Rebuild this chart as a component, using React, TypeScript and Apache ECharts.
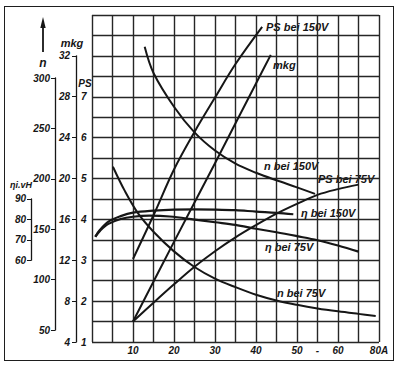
import React, { useEffect, useRef } from "react";
import * as echarts from "echarts";

// ---- data (Ampere on x) ----
const psBei150V_A = [10, 15, 20, 25, 30, 35, 41.5];
const psBei150V = [3.03, 4.1, 5.22, 6.14, 6.98, 7.8, 8.71];

const mkg_A = [10, 20, 30, 40, 43.6];
const mkg = [6.0, 13.8, 21.5, 29.3, 32.1];

const psBei75V_A = [10, 15, 20, 25, 30, 35, 40, 45, 50, 55, 60, 65];
const psBei75V = [1.5, 1.96, 2.41, 2.84, 3.22, 3.56, 3.86, 4.14, 4.38, 4.6, 4.74, 4.85];

const nBei150V_A = [12.85, 15, 20, 25, 30, 35, 40, 45, 50, 54.4];
const nBei150V = [331, 305, 271.5, 246, 228, 215, 206, 198.5, 191.5, 185];

const nBei75V_A = [5.1, 8, 11.2, 15, 20, 25, 30, 35, 40, 45, 50, 55, 60, 65, 69.2];
const nBei75V = [212, 188, 166, 147.5, 128, 112.5, 101, 92.5, 85, 79.3, 75, 71.4, 68.5, 66, 64];

const etaBei150V_A = [0.8, 2, 4, 7, 10, 15, 20, 25, 30, 35, 40, 45, 49.1];
const etaBei150V = [71.5, 75, 78.9, 81.6, 83.3, 84.3, 84.8, 84.9, 84.8, 84.5, 83.8, 83.2, 82.5];

const etaBei75V_A = [0.8, 2, 4, 7, 10, 14, 19, 25, 30, 35, 40, 45, 50, 55, 60, 65];
const etaBei75V = [71.5, 74.5, 77.8, 80.2, 81.3, 81.8, 81.4, 79.9, 78.6, 77.3, 75.4, 73.7, 71.8, 69.8, 67.2, 64.2];

// ---- tick labels ----
const xTickValues = [10, 20, 30, 40, 50, 55, 60, 70];
const xTickLabels = ["10", "20", "30", "40", "50", "-", "60", "80A"];
const mkgTicks = [4, 8, 12, 16, 20, 24, 28, 32];
const psTicks = [1, 2, 3, 4, 5, 6, 7];
const nTicks = [50, 100, 150, 200, 250, 300];
const etaTicks = [60, 70, 80, 90];

const FONT = '"Liberation Sans", Arial, sans-serif';
const INK = "#161616";
const GRIDC = "#262626";

const pair = (xs: number[], ys: number[]) => xs.map((x, i) => [x, ys[i]]);

const tickFmt = (list: number[]) => (v: number) =>
  list.some((t) => Math.abs(t - v) < 1e-6) ? String(Math.round(v)) : "";

export default function App() {
  const ref = useRef<HTMLDivElement>(null);

  useEffect(() => {
    if (!ref.current) return;
    const chart = echarts.init(ref.current, null, { renderer: "svg" });

    const labelStyle = {
      color: INK,
      fontFamily: FONT,
      fontStyle: "italic" as const,
      fontWeight: "bold" as const,
      fontSize: 10,
    };

    const hiddenY = (min: number, max: number) => ({
      type: "value",
      gridIndex: 0,
      min,
      max,
      show: false,
    });

    const lineSeries = (
      name: string,
      xs: number[],
      ys: number[],
      yAxisIndex: number,
      width = 2
    ) => ({
      name,
      type: "line",
      xAxisIndex: 0,
      yAxisIndex,
      data: pair(xs, ys),
      smooth: 0.35,
      showSymbol: false,
      lineStyle: { color: INK, width },
    });

    const curveLabel = (text: string, x: number, y: number) => ({
      type: "text",
      style: {
        text,
        x,
        y,
        fill: INK,
        font: `italic bold 11px ${FONT}`,
        textAlign: "left",
        textVerticalAlign: "middle",
      },
    });

    const titleText = (text: string, x: number, y: number, size = 11) => ({
      type: "text",
      style: {
        text,
        x,
        y,
        fill: INK,
        font: `italic bold ${size}px ${FONT}`,
        textAlign: "center",
        textVerticalAlign: "middle",
      },
    });

    chart.setOption({
      animation: false,
      textStyle: { fontFamily: FONT },
      grid: [
        { left: 92, right: 21, top: 15, bottom: 25 },
        { left: 76, top: 55.8, width: 1, height: 286.2 },
        { left: 55, top: 78, width: 1, height: 252 },
        { left: 31, top: 198.9, width: 1, height: 61.3 },
      ],
      xAxis: [
        {
          type: "value",
          gridIndex: 0,
          min: 0,
          max: 70,
          interval: 5,
          axisLine: { show: false },
          axisTick: { show: false },
          splitLine: { show: true, lineStyle: { color: GRIDC, width: 1.4 } },
          axisLabel: {
            ...labelStyle,
            margin: 3,
            formatter: (v: number) => {
              const i = xTickValues.findIndex((t) => Math.abs(t - v) < 1e-6);
              return i >= 0 ? xTickLabels[i] : "";
            },
          },
        },
        { type: "value", gridIndex: 1, min: 0, max: 1, show: false },
        { type: "value", gridIndex: 2, min: 0, max: 1, show: false },
        { type: "value", gridIndex: 3, min: 0, max: 1, show: false },
      ],
      yAxis: [
        {
          type: "value",
          gridIndex: 0,
          min: 4,
          max: 36,
          interval: 2,
          axisLine: { show: false },
          axisTick: { show: false },
          axisLabel: { show: false },
          splitLine: { show: true, lineStyle: { color: GRIDC, width: 1.4 } },
        },
        hiddenY(1, 9), // PS
        hiddenY(38.1, 362.5), // n
        hiddenY(20, 180), // eta
        {
          type: "value",
          gridIndex: 1,
          position: "left",
          min: 4,
          max: 32,
          interval: 4,
          axisLine: { show: true, lineStyle: { color: INK, width: 1.3 } },
          axisTick: { show: true, length: 4, lineStyle: { color: INK, width: 1 } },
          splitLine: { show: false },
          axisLabel: { ...labelStyle, margin: 6, formatter: tickFmt(mkgTicks) },
        },
        {
          type: "value",
          gridIndex: 1,
          position: "right",
          min: 1,
          max: 8,
          interval: 1,
          axisLine: { show: false },
          axisTick: { show: false },
          splitLine: { show: false },
          axisLabel: { ...labelStyle, margin: 4, formatter: tickFmt(psTicks) },
        },
        {
          type: "value",
          gridIndex: 2,
          position: "left",
          min: 50,
          max: 300,
          interval: 50,
          axisLine: { show: true, lineStyle: { color: INK, width: 1.3 } },
          axisTick: { show: true, length: 4, lineStyle: { color: INK, width: 1 } },
          splitLine: { show: false },
          axisLabel: { ...labelStyle, margin: 5, formatter: tickFmt(nTicks) },
        },
        {
          type: "value",
          gridIndex: 3,
          position: "left",
          min: 60,
          max: 90,
          interval: 10,
          axisLine: { show: true, lineStyle: { color: INK, width: 1.3 } },
          axisTick: { show: true, length: 4, lineStyle: { color: INK, width: 1 } },
          splitLine: { show: false },
          axisLabel: { ...labelStyle, margin: 5, formatter: tickFmt(etaTicks) },
        },
      ],
      series: [
        lineSeries("PS bei 150V", psBei150V_A, psBei150V, 1),
        lineSeries("mkg", mkg_A, mkg, 0),
        lineSeries("PS bei 75V", psBei75V_A, psBei75V, 1),
        lineSeries("n bei 150V", nBei150V_A, nBei150V, 2),
        lineSeries("n bei 75V", nBei75V_A, nBei75V, 2),
        lineSeries("η bei 150V", etaBei150V_A, etaBei150V, 3, 2.2),
        lineSeries("η bei 75V", etaBei75V_A, etaBei75V, 3, 2.2),
      ],
      graphic: [
        {
          type: "line",
          shape: { x1: 43, y1: 52, x2: 43, y2: 24 },
          style: { stroke: INK, lineWidth: 1.8 },
        },
        {
          type: "polygon",
          shape: { points: [[43, 17], [40.3, 28], [45.7, 28]] },
          style: { fill: INK },
        },
        titleText("n", 43, 63, 12),
        titleText("mkg", 72, 43, 11),
        titleText("PS", 85, 83, 10),
        titleText("ηi.vH", 21, 185, 9),
        curveLabel("PS bei 150V", 266, 27),
        curveLabel("mkg", 273, 65),
        curveLabel("n bei 150V", 264, 166),
        curveLabel("PS bei 75V", 318, 179),
        curveLabel("η bei 150V", 301, 213),
        curveLabel("η bei 75V", 265, 247),
        curveLabel("n bei 75V", 277, 293),
      ],
    });

    return () => chart.dispose();
  }, []);

  return (
    <div
      style={{
        position: "absolute",
        left: 0,
        top: 0,
        width: 400,
        height: 367,
        background: "#ffffff",
      }}
    >
      <div
        style={{
          position: "absolute",
          left: 4,
          top: 6,
          width: 390,
          height: 355,
          boxSizing: "border-box",
          border: "1.5px solid #1e1e1e",
        }}
      />
      <div
        ref={ref}
        style={{ position: "absolute", left: 0, top: 0, width: 400, height: 367 }}
      />
    </div>
  );
}
